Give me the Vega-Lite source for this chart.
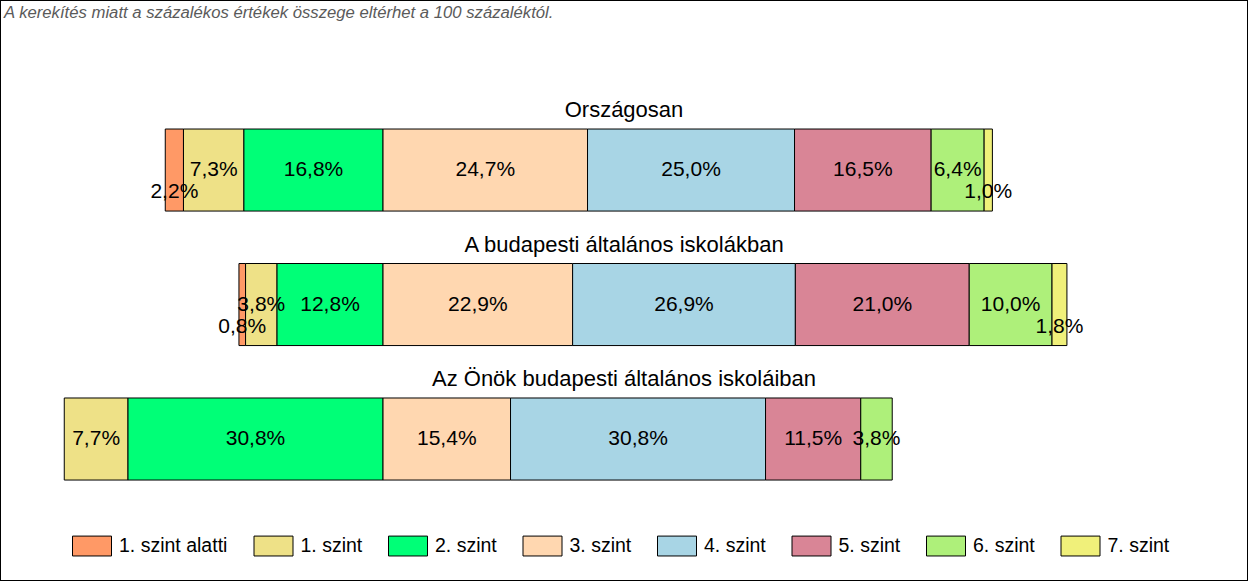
{
  "$schema": "https://vega.github.io/schema/vega-lite/v6.json",
  "width": 1248,
  "height": 581,
  "autosize": {"type": "none"},
  "padding": 0,
  "background": "white",
  "title": {
    "text": "A kerekítés miatt a  százalékos értékek összege eltérhet a 100 százaléktól.",
    "anchor": "start",
    "orient": "top",
    "offset": -35,
    "baseline": "alphabetic",
    "dx": 4,
    "fontSize": 16.7,
    "fontStyle": "italic",
    "fontWeight": "normal",
    "font": "Liberation Sans",
    "color": "#5a5a5a"
  },
  "config": {
    "view": {"stroke": "black", "strokeWidth": 2},
    "text": {"font": "Liberation Sans"}
  },
  "datasets": {
    "bars": [
      {"g": "Országosan", "s": "1. szint alatti", "o": 3, "v": -2.2, "label": "2,2%"},
      {"g": "Országosan", "s": "1. szint", "o": 2, "v": -7.3, "label": "7,3%"},
      {"g": "Országosan", "s": "2. szint", "o": 1, "v": -16.8, "label": "16,8%"},
      {"g": "Országosan", "s": "3. szint", "o": 4, "v": 24.7, "label": "24,7%"},
      {"g": "Országosan", "s": "4. szint", "o": 5, "v": 25.0, "label": "25,0%"},
      {"g": "Országosan", "s": "5. szint", "o": 6, "v": 16.5, "label": "16,5%"},
      {"g": "Országosan", "s": "6. szint", "o": 7, "v": 6.4, "label": "6,4%"},
      {"g": "Országosan", "s": "7. szint", "o": 8, "v": 1.0, "label": "1,0%"},
      {"g": "A budapesti általános iskolákban", "s": "1. szint alatti", "o": 3, "v": -0.8, "label": "0,8%"},
      {"g": "A budapesti általános iskolákban", "s": "1. szint", "o": 2, "v": -3.8, "label": "3,8%"},
      {"g": "A budapesti általános iskolákban", "s": "2. szint", "o": 1, "v": -12.8, "label": "12,8%"},
      {"g": "A budapesti általános iskolákban", "s": "3. szint", "o": 4, "v": 22.9, "label": "22,9%"},
      {"g": "A budapesti általános iskolákban", "s": "4. szint", "o": 5, "v": 26.9, "label": "26,9%"},
      {"g": "A budapesti általános iskolákban", "s": "5. szint", "o": 6, "v": 21.0, "label": "21,0%"},
      {"g": "A budapesti általános iskolákban", "s": "6. szint", "o": 7, "v": 10.0, "label": "10,0%"},
      {"g": "A budapesti általános iskolákban", "s": "7. szint", "o": 8, "v": 1.8, "label": "1,8%"},
      {"g": "Az Önök budapesti általános iskoláiban", "s": "1. szint", "o": 2, "v": -7.7, "label": "7,7%"},
      {"g": "Az Önök budapesti általános iskoláiban", "s": "2. szint", "o": 1, "v": -30.8, "label": "30,8%"},
      {"g": "Az Önök budapesti általános iskoláiban", "s": "3. szint", "o": 4, "v": 15.4, "label": "15,4%"},
      {"g": "Az Önök budapesti általános iskoláiban", "s": "4. szint", "o": 5, "v": 30.8, "label": "30,8%"},
      {"g": "Az Önök budapesti általános iskoláiban", "s": "5. szint", "o": 6, "v": 11.5, "label": "11,5%"},
      {"g": "Az Önök budapesti általános iskoláiban", "s": "6. szint", "o": 7, "v": 3.8, "label": "3,8%"}
    ],
    "titles": [
      {"g": "Országosan"},
      {"g": "A budapesti általános iskolákban"},
      {"g": "Az Önök budapesti általános iskoláiban"}
    ]
  },
  "layer": [
    {
      "data": {"name": "bars"},
      "mark": {"type": "bar", "stroke": "black", "strokeWidth": 1},
      "encoding": {
        "y": {
          "field": "g", "type": "nominal",
          "scale": {"domain": ["Országosan", "A budapesti általános iskolákban", "Az Önök budapesti általános iskoláiban"], "paddingInner": 0.39, "paddingOuter": 0.855, "align": 0.561},
          "axis": null
        },
        "x": {
          "field": "v", "type": "quantitative", "stack": "zero",
          "scale": {"domain": [-46.26, 104.47], "nice": false, "zero": false},
          "axis": null
        },
        "color": {
          "field": "s", "type": "nominal",
          "scale": {
            "domain": ["1. szint alatti", "1. szint", "2. szint", "3. szint", "4. szint", "5. szint", "6. szint", "7. szint"],
            "range": ["#FF9966", "#EEE187", "#00FF77", "#FFD7B0", "#A8D5E5", "#D98596", "#AEF07A", "#F0F07A"]
          },
          "legend": {
            "orient": "none", "legendX": 72, "legendY": 526,
            "direction": "horizontal", "columns": 8, "title": null,
            "symbolType": "M-1,-0.51H1V0.51H-1Z", "symbolSize": 1521,
            "symbolStrokeColor": "black", "symbolStrokeWidth": 1, "symbolOpacity": 1,
            "labelFontSize": 19.5, "labelFont": "Liberation Sans", "labelColor": "black",
            "labelOffset": 7, "columnPadding": 23.5, "padding": 0, "labelLimit": 300
          }
        },
        "order": {"field": "o", "type": "quantitative"}
      }
    },
    {
      "data": {"name": "bars"},
      "mark": {"type": "text", "fontSize": 21, "color": "black", "baseline": "middle", "align": "center", "dy": {"expr": "abs(datum.v) < 2.5 ? 22 : 0"}},
      "encoding": {
        "y": {"field": "g", "type": "nominal"},
        "x": {"field": "v", "type": "quantitative", "stack": "zero", "bandPosition": 0.5},
        "text": {"field": "label"},
        "order": {"field": "o", "type": "quantitative"}
      }
    },
    {
      "data": {"name": "titles"},
      "mark": {"type": "text", "fontSize": 22, "color": "black", "baseline": "middle", "align": "center", "x": {"expr": "width/2"}, "dy": -60},
      "encoding": {
        "y": {"field": "g", "type": "nominal"},
        "text": {"field": "g"}
      }
    }
  ]
}
